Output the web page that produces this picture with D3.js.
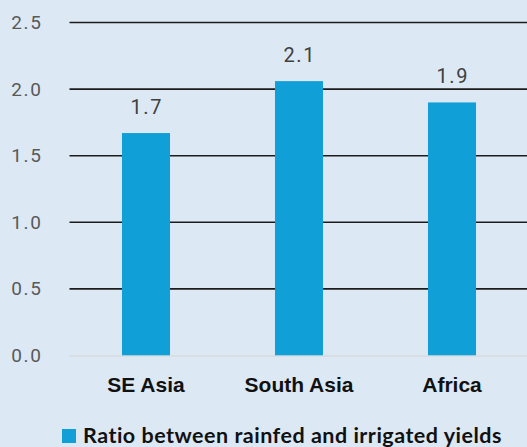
<!DOCTYPE html>
<html>
<head>
<meta charset="utf-8">
<script src="https://cdn.jsdelivr.net/npm/d3@7"></script>
<style>
  html, body { margin: 0; padding: 0; background: #dce9f5; }
  svg { display: block; }
</style>
</head>
<body>
<svg id="chart" width="527" height="447"></svg>
<script>
// Ratio of irrigated to rainfed yields by region
const regions = ["SE Asia", "South Asia", "Africa"];
const ratios = [1.67, 2.06, 1.90];
const yTicks = [0, 0.5, 1.0, 1.5, 2.0, 2.5];
const seriesName = "Ratio between rainfed and irrigated yields";

const W = 527, H = 447;
const margin = { top: 22.5, right: -1.5, bottom: 91.5, left: 69.5 };
const svg = d3.select("#chart");

svg.append("rect").attr("width", W).attr("height", H).attr("fill", "#dce9f5");

const x = d3.scaleBand()
  .domain(regions)
  .range([margin.left, W - margin.right])
  .paddingInner(0.686)
  .paddingOuter(0.343);

const y = d3.scaleLinear()
  .domain([0, 2.5])
  .range([H - margin.bottom, margin.top]);

// Horizontal gridlines
svg.append("g")
  .selectAll("line")
  .data(yTicks.filter(d => d > 0))
  .join("line")
  .attr("x1", margin.left)
  .attr("x2", W)
  .attr("y1", d => y(d))
  .attr("y2", d => y(d))
  .attr("stroke", "#1c1c1c")
  .attr("stroke-width", 1.6);

// Y axis labels
const yAxis = d3.axisLeft(y).tickValues(yTicks).tickFormat(d3.format(".1f")).tickSize(0).tickPadding(27);
const gy = svg.append("g").attr("transform", `translate(${margin.left},0)`).call(yAxis);
gy.select(".domain").remove();
gy.selectAll("text")
  .attr("font-family", "Roboto, sans-serif")
  .attr("font-size", 19)
  .attr("letter-spacing", 1.6)
  .attr("fill", "#595959");

// Bars
svg.append("g")
  .selectAll("rect")
  .data(regions)
  .join("rect")
  .attr("x", d => x(d))
  .attr("width", x.bandwidth())
  .attr("y", (d, i) => y(ratios[i]))
  .attr("height", (d, i) => y(0) - y(ratios[i]))
  .attr("fill", "#119fd7");

// Baseline
svg.append("line")
  .attr("x1", margin.left).attr("x2", W)
  .attr("y1", y(0) + 0.5).attr("y2", y(0) + 0.5)
  .attr("stroke", "#d4d4d4")
  .attr("stroke-width", 1.2);

// Value labels
svg.append("g")
  .selectAll("text")
  .data(regions)
  .join("text")
  .attr("x", d => x(d) + x.bandwidth() / 2 + 0.8)
  .attr("y", (d, i) => y(ratios[i]) - 19)
  .attr("text-anchor", "middle")
  .attr("font-family", "Roboto, sans-serif")
  .attr("font-size", 20)
  .attr("letter-spacing", 1.6)
  .attr("fill", "#404040")
  .text((d, i) => d3.format(".1f")(ratios[i]));

// Category labels
const xAxis = d3.axisBottom(x).tickSize(0).tickPadding(22);
const gx = svg.append("g").attr("transform", `translate(0,${y(0)})`).call(xAxis);
gx.select(".domain").remove();
gx.selectAll("text")
  .attr("font-family", "'Liberation Sans', Arial, sans-serif")
  .attr("font-weight", "bold")
  .attr("font-size", 21)
  .attr("fill", "#111");

// Legend
const legend = svg.append("g").attr("transform", "translate(62,429)");
legend.append("rect").attr("width", 14).attr("height", 14).attr("fill", "#119fd7");
legend.append("text")
  .attr("x", 21)
  .attr("y", 13.5)
  .attr("font-family", "Lato, sans-serif")
  .attr("font-weight", "bold")
  .attr("font-size", 21.5)
  .attr("letter-spacing", 0.5)
  .attr("fill", "#111")
  .text(seriesName);
</script>
</body>
</html>
